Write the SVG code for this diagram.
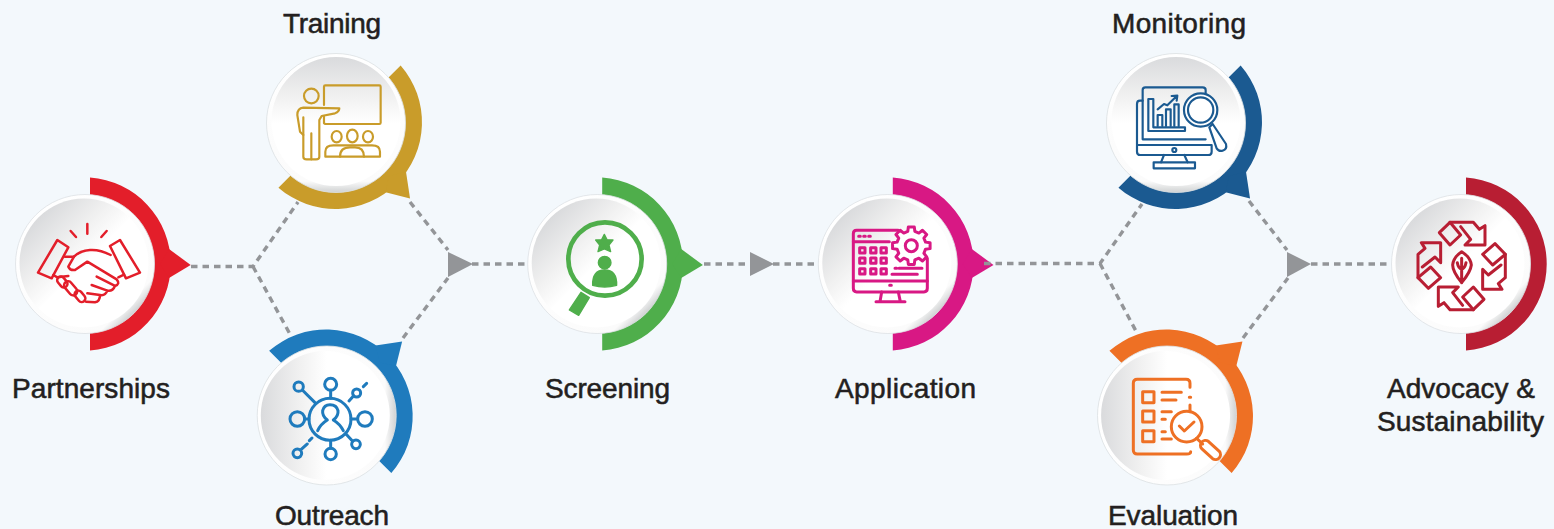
<svg xmlns="http://www.w3.org/2000/svg" width="1554" height="529" viewBox="0 0 1554 529">
<style>
.lbl{font-family:"Liberation Sans",Arial,sans-serif;font-size:28px;fill:#231f20;stroke:#231f20;stroke-width:.55px;text-anchor:middle}
.dash{fill:none;stroke:#939598;stroke-width:3.4;stroke-dasharray:6.5 5}
.tri{fill:#939598}
.ic{fill:none;stroke:currentColor;stroke-width:6.5;stroke-linecap:round;stroke-linejoin:round}
.ic .w7{stroke-width:7.5}
.ic .w8{stroke-width:9}
.ic .w14{stroke-width:14}
.ic .f{fill:currentColor;stroke:currentColor;stroke-width:4}
</style>
<defs>
<linearGradient id="rim" gradientUnits="userSpaceOnUse" x1="-49" y1="-49" x2="49" y2="49">
<stop offset="0" stop-color="#ffffff"/><stop offset=".92" stop-color="#fbfbfb"/><stop offset="1" stop-color="#d0d2d3"/>
</linearGradient>
<linearGradient id="disc" gradientUnits="userSpaceOnUse" x1="-46" y1="-46" x2="46" y2="46">
<stop offset="0" stop-color="#dadbdd"/><stop offset=".3" stop-color="#f1f1f1"/><stop offset=".5" stop-color="#ffffff"/>
</linearGradient>
<path id="ring" fill="currentColor" d="M5,-86.4A86.6,86.6 0 0 1 5,86.4V60A60,60 0 0 0 5,-60Z"/>
<path id="pointer" fill="currentColor" d="M84,-15L105.7,1L84,14L75,0Z"/>
<g id="face">
<circle r="69.5" fill="url(#rim)" stroke="#dde1e4" stroke-width=".8"/>
<circle cx="-1" cy="-1" r="64.5" fill="url(#disc)"/>
</g>
</defs>
<rect id="background" width="1554" height="529" fill="#f3f8fc"/>
<g id="connectors">
<path class="dash" d="M191,266.5H253L298,202M253,266.5L291,336"/>
<path class="dash" d="M410,202L448,250M403,338L448,278"/>
<path class="dash" d="M472,264H527"/>
<path class="dash" d="M704,264H818"/>
<path class="dash" d="M1249,201L1287,250M1243,338L1288,278"/>
<path class="dash" d="M1311,264H1391"/>
<path class="tri" d="M448,252L473,264L448,277Z"/>
<path class="tri" d="M750,252L774,264L750,276Z"/>
<path class="tri" d="M1287,252L1311,264L1287,277Z"/>
</g>

<g id="partnerships" color="#e31e2a">
<g transform="translate(85,264)"><use href="#ring"/><use href="#pointer"/><use href="#face"/></g>
<g class="ic" transform="translate(0,160) scale(.3333)">
<g class="w7">
<path d="M212,213L228,231M262,192V221M320,213L304,231"/>
<path d="M172,240L205,262L155,355L114,338Z"/>
<path d="M360,240L330,258L378,355L420,338Z"/>
<path d="M195,290H222Q240,272 270,270Q300,268 332,285"/>
<path d="M222,290L205,320Q210,332 225,330L262,305L350,358Q362,372 345,378L290,350M345,378Q338,395 322,392L275,375M322,392Q316,408 300,405L262,400M300,405Q300,425 285,427L258,425M355,352L372,344"/>
<path d="M160,345L172,352L205,348"/>
<rect x="176" y="348" width="22" height="36" rx="11" transform="rotate(-40 187 366)"/>
<rect x="200" y="361" width="24" height="48" rx="12" transform="rotate(-40 212 385)"/>
<rect x="229" y="390" width="22" height="38" rx="11" transform="rotate(-40 240 409)"/>
</g>
</g>
</g>

<g id="training" color="#c99c2a">
<g transform="translate(336,123) rotate(45)"><use href="#ring"/><use href="#pointer"/><use href="#face"/></g>
<g class="ic" transform="translate(250,40) scale(.3333)">
<path d="M222,195V140Q222,136 226,136H388Q392,136 392,140V248Q392,252 388,252H226L222,250V228"/>
<circle cx="184" cy="168" r="22"/>
<path d="M268,205L160,203Q142,205 142,225L150,275L160,285V350Q160,358 170,358H198Q208,358 208,350V240L215,228L255,220Q268,215 268,205Z"/>
<path d="M184,280V358M160,232V285"/>
<ellipse cx="260" cy="290" rx="15" ry="17"/><ellipse cx="307" cy="288" rx="16" ry="19"/><ellipse cx="354" cy="290" rx="15" ry="17"/>
<path d="M226,350V335Q226,316 250,316H366Q390,316 390,335V350Z"/>
<path d="M270,350Q270,322 300,322H315Q342,322 342,350"/>
</g>
</g>

<g id="outreach" color="#1f7bbd">
<g transform="translate(326.7,415.5) rotate(-45)"><use href="#ring"/><use href="#pointer"/><use href="#face"/></g>
<g class="ic" transform="translate(250,260) scale(.3333)">
<g class="w8">
<circle cx="240" cy="478" r="63"/>
<circle cx="242" cy="373" r="18"/><circle cx="146" cy="380" r="14"/><circle cx="320" cy="399" r="12"/>
<circle cx="142" cy="477" r="22"/><circle cx="345" cy="477" r="22"/><circle cx="318" cy="553" r="13"/>
<circle cx="242" cy="582" r="17"/><circle cx="142" cy="580" r="13"/>
<path d="M242,391V415M157,390L195,428M311,407L297,423M164,477H177M323,477H303M308,544L288,522M242,565V541M152,570L172,552M178,542L186,534M340,380L350,370"/>
<path d="M203,512Q212,492 232,480Q216,468 218,452Q222,434 240,434Q260,434 264,452Q266,468 250,480Q270,492 280,512"/>
</g>
</g>
</g>

<g id="screening" color="#4fae4b">
<g transform="translate(597.2,264)"><use href="#ring"/><use href="#pointer"/><use href="#face"/></g>
<g class="ic" transform="translate(510,170) scale(.3333)">
<circle class="w14" cx="285" cy="267" r="110"/>
<path class="f" d="M213,367L238,383L206,436L178,420Z"/>
<path class="f" d="M283,193L291,209L309,210L297,225L302,245L283,237L264,245L269,225L257,210L275,209Z"/>
<circle class="f" cx="284" cy="278" r="19"/>
<path class="f" d="M248,346Q246,300 284,300Q322,300 320,346Q284,356 248,346Z"/>
</g>
</g>

<g id="application" color="#d81884">
<g transform="translate(887.8,264)"><use href="#ring"/><use href="#pointer"/><use href="#face"/></g>
<g class="ic" transform="translate(800,170) scale(.3333)">
<g class="w8">
<path d="M295,181H170Q160,181 160,191V355Q160,366 170,366H372Q382,366 382,355V265"/>
<path d="M160,215H268M160,333H382"/>
<path d="M176,199H181M191,199H196M206,199H211M285,295H290M297,295H366M276,313H352M269,346H274"/>
<rect x="179" y="233" width="16" height="16"/><rect x="212" y="233" width="16" height="16"/><rect x="243" y="233" width="16" height="16"/>
<rect x="179" y="264" width="16" height="16"/><rect x="212" y="264" width="16" height="16"/><rect x="243" y="264" width="16" height="16"/>
<rect x="179" y="296" width="16" height="16"/><rect x="212" y="296" width="16" height="16"/><rect x="243" y="296" width="16" height="16"/>
<path d="M245,366L240,395M295,366L301,395M228,395H315"/>
<g transform="translate(334,227)">
<path d="M42.7,-10.6L56.3,-8.9L56.3,8.9L42.7,10.6L37.7,22.7L46.1,33.5L33.5,46.1L22.7,37.7L10.6,42.7L8.9,56.3L-8.9,56.3L-10.6,42.7L-22.7,37.7L-33.5,46.1L-46.1,33.5L-37.7,22.7L-42.7,10.6L-56.3,8.9L-56.3,-8.9L-42.7,-10.6L-37.7,-22.7L-46.1,-33.5L-33.5,-46.1L-22.7,-37.7L-10.6,-42.7L-8.9,-56.3L8.9,-56.3L10.6,-42.7L22.7,-37.7L33.5,-46.1L46.1,-33.5L37.7,-22.7Z" fill="#fff"/>
<circle r="18"/>
</g>
</g>
</g>
</g>

<g id="monitoring" color="#1b5a91">
<g transform="translate(1176,123) rotate(45)"><use href="#ring"/><use href="#pointer"/><use href="#face"/></g>
<g class="ic" transform="translate(1090,40) scale(.3333)">
<path d="M158,182H150Q141,182 141,192V335Q141,345 151,345H355Q365,345 365,335V315H141"/>
<path d="M158,298V150Q158,142 166,142H338Q347,142 347,150V160M158,298H347"/>
<path d="M175,177H190V262H285V273H175Z"/>
<path d="M203,258V225H217V258M228,258V208H242V258M253,258V193H266V258"/>
<path d="M203,208L222,192L232,196L258,170M245,168L262,167L260,182"/>
<circle cx="332" cy="210" r="50" fill="#fff"/><circle cx="332" cy="210" r="38"/>
<path d="M358,262L368,252L408,312Q412,328 398,332Q386,335 380,325Z"/>
<circle cx="253" cy="330" r="6"/>
<path d="M222,345L213,367M283,345L293,367"/>
<rect x="191" y="367" width="124" height="18"/>
</g>
</g>

<g id="evaluation" color="#ee7024">
<g transform="translate(1167,415.5) rotate(-45)"><use href="#ring"/><use href="#pointer"/><use href="#face"/></g>
<g class="ic" transform="translate(1090,260) scale(.3333)">
<g class="w8">
<path d="M300,382V370Q300,358 288,358H142Q130,358 130,370V570Q130,582 142,582H290Q302,582 302,575"/>
<path d="M298,412H302M300,435V455"/>
<rect x="158" y="395" width="34" height="33"/><rect x="158" y="453" width="34" height="33"/><rect x="158" y="512" width="34" height="33"/>
<path d="M216,397H274M216,420H258M216,455H244M216,478H226M216,515H226M216,537H244"/>
<circle cx="290" cy="500" r="46"/>
<path d="M268,498L283,513L312,486"/>
<path d="M320,535L338,552"/>
<path d="M335,566L368,596A15,15 0 0 0 388,574L355,544A15,15 0 0 0 335,566Z"/>
</g>
</g>
</g>

<g id="advocacy-sustainability" color="#b81e33">
<g transform="translate(1461,264)"><use href="#ring"/><use href="#face"/></g>
<g class="ic" transform="translate(1370,170) scale(.3333)">
<g class="w8">
<path d="M208,188L240,157L272,195L240,225Z"/>
<path d="M240,157H310L328,178L345,167V225H285L302,208L272,170"/>
<g transform="rotate(90 275 288)"><path d="M208,188L240,157L272,195L240,225Z"/><path d="M240,157H310L328,178L345,167V225H285L302,208L272,170"/></g>
<g transform="rotate(180 275 288)"><path d="M208,188L240,157L272,195L240,225Z"/><path d="M240,157H310L328,178L345,167V225H285L302,208L272,170"/></g>
<g transform="rotate(270 275 288)"><path d="M208,188L240,157L272,195L240,225Z"/><path d="M240,157H310L328,178L345,167V225H285L302,208L272,170"/></g>
<path d="M275,338Q248,305 248,285Q250,262 275,245Q302,262 304,285Q302,305 275,338ZM275,265V338M262,278Q265,295 275,297M288,278Q285,295 275,297"/>
</g>
</g>
</g>

<g id="connectors-over">
<path class="dash" d="M984,263.5H1100L1142,204M1100,263.5L1137,333"/>
</g>

<g id="labels">
<text class="lbl" x="332" y="33" textLength="98">Training</text>
<text class="lbl" x="1179" y="33" textLength="134">Monitoring</text>
<text class="lbl" x="91" y="398" textLength="158">Partnerships</text>
<text class="lbl" x="607.5" y="398" textLength="125">Screening</text>
<text class="lbl" x="905.5" y="398" textLength="141">Application</text>
<text class="lbl" x="1461" y="398" textLength="148">Advocacy &amp;</text>
<text class="lbl" x="1460.5" y="431" textLength="167">Sustainability</text>
<text class="lbl" x="332" y="525" textLength="114">Outreach</text>
<text class="lbl" x="1173" y="525" textLength="130">Evaluation</text>
</g>
</svg>
